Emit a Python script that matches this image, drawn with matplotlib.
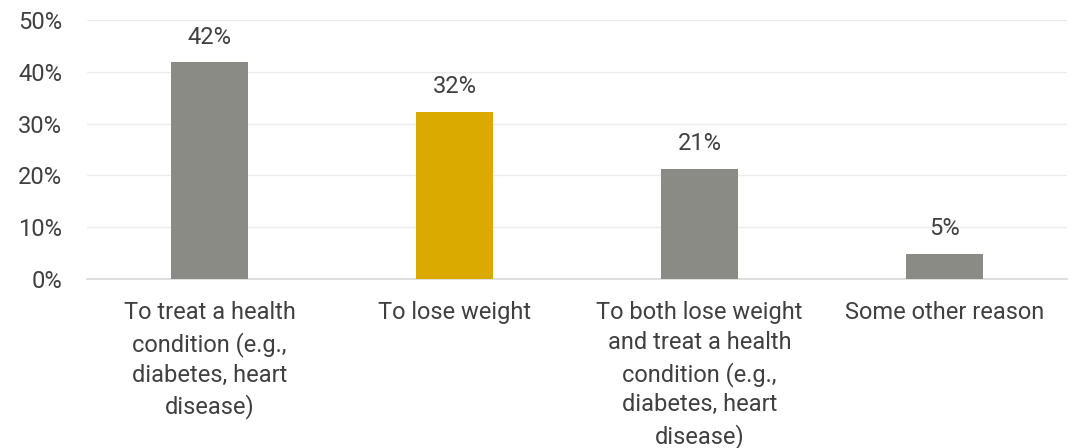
import matplotlib.pyplot as plt
import numpy as np

# data
categories = [
    "To treat a health\ncondition (e.g.,\ndiabetes, heart\ndisease)",
    "To lose weight",
    "To both lose weight\nand treat a health\ncondition (e.g.,\ndiabetes, heart\ndisease)",
    "Some other reason",
]
values = [41.8, 32.2, 21.2, 4.8]
value_labels = ["42%", "32%", "21%", "5%"]
bar_colors = ["#8b8b85", "#dbaa00", "#8b8b85", "#8b8b85"]
yticks = [0, 10, 20, 30, 40, 50]

text_color = "#404040"
fsize = 17
plt.rcParams['font.family'] = ['Roboto', 'DejaVu Sans']

fig = plt.figure(figsize=(10.7, 4.48), dpi=100)
ax = fig.add_axes([87 / 1070, 1 - 279 / 448, 980 / 1070, 259 / 448])

x = np.arange(len(categories))
bars = ax.bar(x, values, width=0.314, color=bar_colors, zorder=3)

# value labels
for b, lab in zip(bars, value_labels):
    ax.annotate(lab, (b.get_x() + b.get_width() / 2, b.get_height()),
                xytext=(0, 10), textcoords="offset points",
                ha="center", va="bottom", fontsize=fsize, color=text_color)

ax.set_xlim(-0.5, len(categories) - 0.5)
ax.set_ylim(0, 50)
ax.set_yticks(yticks)
ax.set_yticklabels([f"{t}%" for t in yticks])
ax.set_xticks(x)
ax.set_xticklabels(categories, linespacing=1.385)

ax.grid(axis="y", color="#ececec", linewidth=1, zorder=0)
for s in ["top", "right", "left"]:
    ax.spines[s].set_visible(False)
ax.spines["bottom"].set_color("#d9d9d9")
ax.spines["bottom"].set_linewidth(1.2)

ax.tick_params(axis="both", length=0, labelsize=fsize, labelcolor=text_color)
ax.tick_params(axis="y", pad=18)
ax.tick_params(axis="x", pad=16)
for lab in ax.get_xticklabels():
    lab.set_verticalalignment("top")

fig.savefig("out.png", dpi=100)
